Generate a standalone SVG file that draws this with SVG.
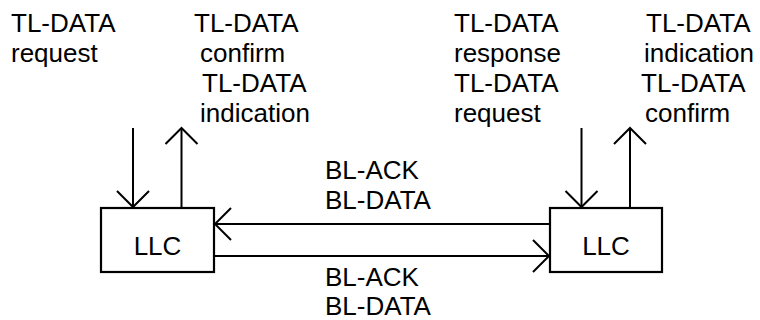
<svg xmlns="http://www.w3.org/2000/svg" width="760" height="320" viewBox="0 0 760 320">
  <style>
    .box { fill: #ffffff; stroke: #000000; stroke-width: 2.2; }
    .conn { fill: none; stroke: #000000; stroke-width: 2; marker-end: url(#arrow); }
    .t { font-family: "Liberation Sans", Arial, sans-serif; font-size: 26px; fill: #000000; }
  </style>
  <defs>
    <marker id="arrow" markerUnits="userSpaceOnUse" markerWidth="40" markerHeight="40" viewBox="-20 -20 40 40" refX="0" refY="0" orient="auto" overflow="visible">
      <path d="M-16,-16 L0,0 L-16,16" fill="none" stroke="#000000" stroke-width="2"/>
    </marker>
  </defs>
  <rect width="760" height="320" fill="#ffffff"/>

  <g id="connectors">
    <line class="conn" x1="133" y1="128" x2="133" y2="207"/>
    <line class="conn" x1="181.5" y1="208" x2="181.5" y2="128"/>
    <line class="conn" x1="581.5" y1="128" x2="581.5" y2="207"/>
    <line class="conn" x1="630" y1="208" x2="630" y2="128"/>
    <line class="conn" x1="550" y1="224" x2="215" y2="224"/>
    <line class="conn" x1="214" y1="256" x2="549" y2="256"/>
  </g>

  <g id="llc-left">
    <rect class="box" x="101" y="208" width="113" height="64"/>
    <text class="t" x="157.5" y="255" text-anchor="middle">LLC</text>
  </g>
  <g id="llc-right">
    <rect class="box" x="550" y="208" width="112" height="64"/>
    <text class="t" x="606" y="255" text-anchor="middle">LLC</text>
  </g>

  <g id="labels">
    <text class="t" x="11" y="32">TL-DATA</text>
    <text class="t" x="11" y="62">request</text>

    <text class="t" x="194" y="32">TL-DATA</text>
    <text class="t" x="200" y="62">confirm</text>
    <text class="t" x="202" y="92">TL-DATA</text>
    <text class="t" x="200" y="122">indication</text>

    <text class="t" x="454" y="32">TL-DATA</text>
    <text class="t" x="454" y="62">response</text>
    <text class="t" x="454" y="92">TL-DATA</text>
    <text class="t" x="454" y="122">request</text>

    <text class="t" x="646" y="32">TL-DATA</text>
    <text class="t" x="644" y="62">indication</text>
    <text class="t" x="641" y="92">TL-DATA</text>
    <text class="t" x="645" y="122">confirm</text>

    <text class="t" x="325" y="179">BL-ACK</text>
    <text class="t" x="325" y="209">BL-DATA</text>
    <text class="t" x="325" y="286">BL-ACK</text>
    <text class="t" x="325" y="315">BL-DATA</text>
  </g>
</svg>
